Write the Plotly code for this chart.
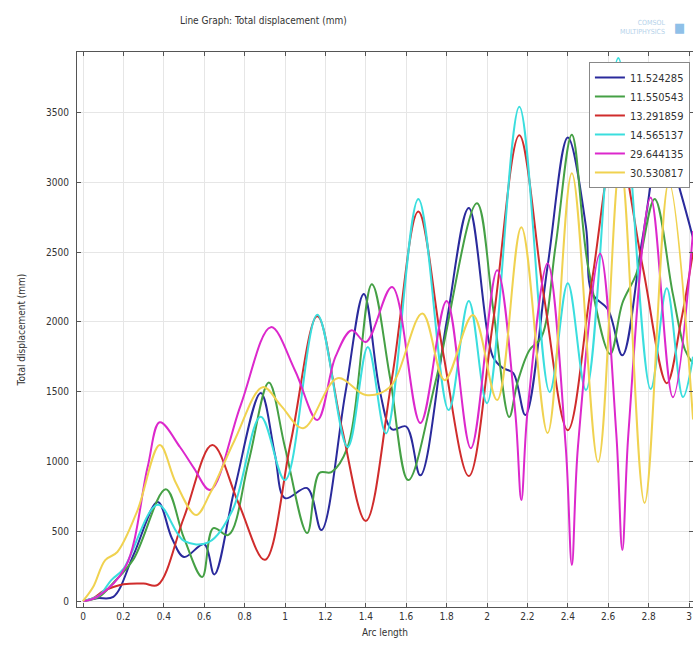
import plotly.graph_objects as go

# ---- data ----
x_ticks = [0, 0.2, 0.4, 0.6, 0.8, 1, 1.2, 1.4, 1.6, 1.8, 2, 2.2, 2.4, 2.6, 2.8, 3]
x_tick_labels = ["0", "0.2", "0.4", "0.6", "0.8", "1", "1.2", "1.4", "1.6", "1.8", "2", "2.2", "2.4", "2.6", "2.8", "3"]
y_ticks = [0, 500, 1000, 1500, 2000, 2500, 3000, 3500]

names = ["11.524285", "11.550543", "13.291859", "14.565137", "29.644135", "30.530817"]
colors = ["#2a2a9c", "#45a045", "#d02c2c", "#3adede", "#dc28cc", "#f0d250"]

blue_x = [0, 0.07, 0.15, 0.25, 0.37, 0.44, 0.5, 0.6, 0.65, 0.75, 0.88, 0.95, 1.0, 1.11, 1.18, 1.3,
          1.39, 1.47, 1.53, 1.6, 1.67, 1.8, 1.91, 2.03, 2.08, 2.13, 2.19, 2.3, 2.4, 2.49, 2.52,
          2.6, 2.67, 2.77, 2.87, 2.96, 3.02]
blue_y = [0, 20, 30, 330, 710, 450, 315, 408, 190, 800, 1490, 1050, 737, 809, 508, 1500,
          2200, 1500, 1230, 1250, 900, 2000, 2815, 1748, 1668, 1633, 1332, 2400, 3320, 2680, 2205,
          2085, 1760, 2600, 3350, 2920, 2600]

green_x = [0, 0.08, 0.15, 0.25, 0.41, 0.5, 0.59, 0.645, 0.72, 0.82, 0.92, 1.0, 1.11, 1.17, 1.23,
           1.31, 1.43, 1.52, 1.61, 1.75, 1.95, 2.03, 2.11, 2.15, 2.21, 2.27, 2.34, 2.42, 2.5,
           2.61, 2.67, 2.74, 2.83, 2.92, 2.98, 3.02]
green_y = [0, 30, 130, 300, 800, 450, 172, 522, 473, 1000, 1565, 1100, 487, 917, 924,
           1103, 2270, 1600, 866, 1600, 2850, 2100, 1318, 1561, 1797, 1891, 2550, 3340, 2400,
           1770, 2133, 2348, 2880, 2200, 1800, 1700]

red_x = [0, 0.05, 0.1, 0.15, 0.2, 0.3, 0.37, 0.5, 0.64, 0.77, 0.9, 1.03, 1.16, 1.28, 1.4, 1.53,
         1.66, 1.78, 1.91, 2.03, 2.16, 2.28, 2.4, 2.52, 2.64, 2.77, 2.89, 2.96, 3.02]
red_y = [0, 20, 70, 100, 120, 125, 115, 600, 1117, 700, 295, 1150, 2040, 1250, 573, 1600,
         2790, 1800, 895, 2000, 3337, 2200, 1224, 2300, 3300, 2400, 1560, 2000, 2500]

cyan_x = [0, 0.08, 0.14, 0.2, 0.37, 0.5, 0.62, 0.74, 0.88, 1.0, 1.16, 1.31, 1.41, 1.5, 1.66,
          1.81, 1.91, 2.0, 2.16, 2.31, 2.4, 2.49, 2.65, 2.81, 2.89, 2.97, 3.02]
cyan_y = [0, 40, 150, 230, 690, 430, 420, 650, 1320, 866, 2050, 1103, 1820, 1200, 2880,
          1368, 2150, 1417, 3540, 1497, 2277, 1511, 3890, 1518, 2241, 1461, 1750]

magenta_x = [0, 0.07, 0.21, 0.32, 0.38, 0.48, 0.55, 0.63, 0.78, 0.93, 1.05, 1.16, 1.25, 1.33,
             1.4, 1.53, 1.67, 1.8, 1.92, 2.05, 2.14, 2.17, 2.2, 2.3, 2.39, 2.42, 2.45, 2.56,
             2.64, 2.67, 2.7, 2.81, 2.92, 3.02]
magenta_y = [0, 30, 243, 960, 1280, 1103, 950, 795, 1400, 1962, 1650, 1296, 1750, 1940,
             1855, 2250, 1275, 2150, 1095, 2370, 1350, 723, 1350, 2420, 1100, 258, 1100, 2490,
             1200, 365, 1200, 2890, 1460, 2650]

yellow_x = [0, 0.05, 0.11, 0.17, 0.27, 0.38, 0.46, 0.56, 0.63, 0.75, 0.89, 0.98, 1.09, 1.26,
            1.4, 1.52, 1.68, 1.79, 1.93, 2.05, 2.17, 2.3, 2.42, 2.55, 2.66, 2.78, 2.9, 3.02]
yellow_y = [0, 100, 293, 351, 650, 1117, 845, 616, 773, 1150, 1532, 1400, 1238, 1596,
            1475, 1533, 2060, 1582, 2048, 1440, 2678, 1203, 3065, 995, 3150, 702, 3000, 1300]

series_x = [blue_x, green_x, red_x, cyan_x, magenta_x, yellow_x]
series_y = [blue_y, green_y, red_y, cyan_y, magenta_y, yellow_y]

FONT = "Liberation Sans Narrow, DejaVu Sans Condensed, Liberation Sans, sans-serif"
TXT = "#333333"

fig = go.Figure()
for nm, col, xs, ys in zip(names, colors, series_x, series_y):
    fig.add_trace(go.Scatter(
        x=xs, y=ys, name=nm, mode="lines",
        line=dict(color=col, width=2.0, shape="spline", smoothing=1.0),
    ))

fig.update_layout(
    width=693, height=646,
    margin=dict(l=77, r=0, t=52, b=39, autoexpand=False),
    paper_bgcolor="white", plot_bgcolor="white",
    font=dict(family=FONT, size=10, color=TXT),
    title=dict(text="Line Graph: Total displacement (mm)", x=0.38, xref="container",
               xanchor="center", y=0.969, yref="container", yanchor="middle",
               font=dict(family=FONT, size=10, color=TXT)),
    showlegend=True,
    legend=dict(x=0.995, y=0.982, xanchor="right", yanchor="top",
                bgcolor="white", bordercolor="#888888", borderwidth=1,
                font=dict(family=FONT, size=11, color=TXT),
                tracegroupgap=0, itemwidth=30),
)

fig.update_xaxes(
    range=[-0.0297, 3.0198], tickvals=x_ticks, ticktext=x_tick_labels,
    showgrid=True, gridcolor="#e6e6e6", gridwidth=1, zeroline=False,
    showline=True, linecolor="#555555", linewidth=1, mirror="ticks",
    ticks="inside", ticklen=4, tickcolor="#555555", automargin=False,
    title=dict(text="Arc length", standoff=7, font=dict(family=FONT, size=10, color=TXT)),
    tickfont=dict(family=FONT, size=10, color=TXT),
)
fig.update_yaxes(
    range=[-43, 3933], tickvals=y_ticks,
    showgrid=True, gridcolor="#e6e6e6", gridwidth=1, zeroline=False,
    showline=True, linecolor="#555555", linewidth=1, mirror="ticks",
    ticks="inside", ticklen=4, tickcolor="#555555", automargin=False,
    ticklabelstandoff=5,
    title=dict(text="Total displacement (mm)", standoff=18, font=dict(family=FONT, size=10, color=TXT)),
    tickfont=dict(family=FONT, size=10, color=TXT),
)

# faint logo text at top right
fig.add_annotation(text="COMSOL<br>MULTIPHYSICS", xref="paper", yref="paper",
                   x=0.958, y=1.045, xanchor="right", yanchor="middle", showarrow=False,
                   font=dict(family=FONT, size=7, color="#b5d2ea"), align="right")
fig.add_annotation(text="\u25a0", xref="paper", yref="paper",
                   x=0.978, y=1.045, xanchor="center", yanchor="middle", showarrow=False,
                   font=dict(family=FONT, size=13, color="#8fc0e8"))

# remove the default page margin so the 693x646 figure fills the window exactly
page_fix = ("document.body.style.margin='0';"
            "document.body.style.overflow='hidden';"
            "document.documentElement.style.overflow='hidden';")
fig.write_html("out.html", post_script=page_fix, config={"displayModeBar": False})
